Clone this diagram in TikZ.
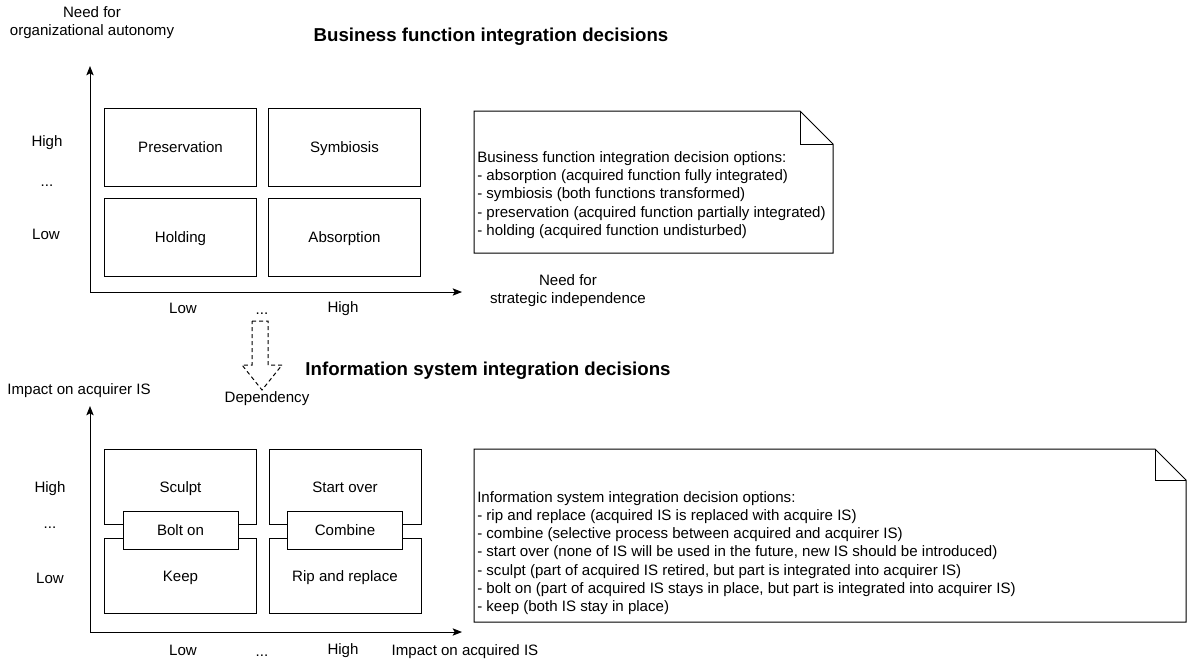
\documentclass[tikz,border=0pt]{standalone}
\usepackage{fontspec}
\setmainfont{Liberation Sans}
\usetikzlibrary{arrows.meta,positioning,calc}
\tikzset{
  cellbox/.style ={rectangle, draw=black, fill=white, line width=0.75pt,
                   minimum width=114pt, minimum height=58.5pt, inner sep=0pt,
                   text height=10pt, text depth=1.2pt,
                   align=center, font=\fontsize{11.3}{13.5}\selectfont},
  cellboxlow/.style={cellbox, minimum height=56.25pt},
  bridgebox/.style={cellbox, minimum width=86.25pt, minimum height=28.5pt},
  axislbl/.style ={font=\fontsize{11.3}{13.5}\selectfont, align=center, inner sep=0pt},
  titlelbl/.style={font=\fontsize{14}{16}\selectfont\bfseries, inner sep=0pt},
  notetext/.style={font=\fontsize{11.3}{13.6}\selectfont, align=left, inner sep=0pt, anchor=west},
  axisarrow/.style={-{Stealth[length=7pt,width=5.5pt,inset=1.5pt]}, line width=0.75pt, draw=black},
  notepath/.style={line width=0.75pt, draw=black, line join=miter},
}
\begin{document}
\begin{tikzpicture}[x=0.75pt, y=-0.75pt]
  \useasboundingbox (0,0) rectangle (1187,664);

  % business function decisions
  \node[titlelbl] (bftitle) at (491,37) {Business function integration decisions};
  \node[axislbl] (bfylbl) at (92,23) {Need for\\organizational autonomy};
  \coordinate (bforigin) at (90,292);
  \coordinate (bfytip) at (90,66);
  \coordinate (bfxtip) at (462,292);
  \draw[axisarrow] (bforigin) -- (bfytip);
  \draw[axisarrow] (bforigin) -- (bfxtip);

  \node[cellbox] (preservation) at (180.5,147) {Preservation};
  \node[cellbox] (symbiosis)    at (344.5,147) {Symbiosis};
  \node[cellbox] (holding)      at (180.5,237) {Holding};
  \node[cellbox] (absorption)   at (344.5,237) {Absorption};

  \node[axislbl] (bfhigh) at (47,143) {High};
  \node[axislbl] (bfdots) at (47,186) {...};
  \node[axislbl] (bflow)  at (46,234) {Low};
  \node[axislbl] (bfxlow)  at (183,308) {Low};
  \node[axislbl] (bfxdots) at (262,314) {...};
  \node[axislbl] (bfxhigh) at (343,309) {High};
  \node[axislbl] (bfxlbl) at (568,291) {Need for\\strategic independence};

  % dependency arrow
  \draw[line width=0.75pt, dash pattern=on 3pt off 2.25pt, line join=miter]
    (252,321) -- (268,321) -- (268,365) -- (282,365) -- (262,390)
    -- (242,365) -- (252,365) -- cycle;
  \node[axislbl] (deplbl) at (267,399) {Dependency};

  % information system decisions
  \node[titlelbl] (istitle) at (488,371) {Information system integration decisions};
  \node[axislbl] (isylbl) at (79,391) {Impact on acquirer IS};
  \coordinate (isorigin) at (90,632);
  \coordinate (isytip) at (90,406);
  \coordinate (isxtip) at (462,632);
  \draw[axisarrow] (isorigin) -- (isytip);
  \draw[axisarrow] (isorigin) -- (isxtip);

  \node[cellboxlow] (sculpt)    at (180.5,486.5) {Sculpt};
  \node[cellboxlow] (startover) at (345,486.5) {Start over};
  \node[cellboxlow] (keep)      at (180.5,575.5) {Keep};
  \node[cellboxlow] (ripreplace) at (345,575.5) {Rip and replace};
  \node[bridgebox] (bolton)  at (180.5,530) {Bolt on};
  \node[bridgebox] (combine) at (345,530) {Combine};

  \node[axislbl] (ishigh) at (50,489) {High};
  \node[axislbl] (isdots) at (50,528) {...};
  \node[axislbl] (islow)  at (50,578) {Low};
  \node[axislbl] (isxlow)  at (183,650) {Low};
  \node[axislbl] (isxdots) at (262,656) {...};
  \node[axislbl] (isxhigh) at (343,651) {High};
  \node[axislbl] (isxlbl) at (465,652) {Impact on acquired IS};

  % notes with folded corner
  \foreach \l/\t/\r/\b/\f in {474/111/833/253/33, 474/449/1186/622/31}{
    \draw[notepath, fill=white] (\l,\t) -- (\r-\f,\t) -- (\r,\t+\f) -- (\r,\b) -- (\l,\b) -- cycle;
    \draw[notepath] (\r-\f,\t) -- (\r-\f,\t+\f) -- (\r,\t+\f);
  }
  \node[notetext] (bfnote) at (477,195) {Business function integration decision options:\\
    - absorption (acquired function fully integrated)\\
    - symbiosis (both functions transformed)\\
    - preservation (acquired function partially integrated)\\
    - holding (acquired function undisturbed)};
  \node[notetext] (isnote) at (477,553) {Information system integration decision options:\\
    - rip and replace (acquired IS is replaced with acquire IS)\\
    - combine (selective process between acquired and acquirer IS)\\
    - start over (none of IS will be used in the future, new IS should be introduced)\\
    - sculpt (part of acquired IS retired, but part is integrated into acquirer IS)\\
    - bolt on (part of acquired IS stays in place, but part is integrated into acquirer IS)\\
    - keep (both IS stay in place)};
\end{tikzpicture}
\end{document}
